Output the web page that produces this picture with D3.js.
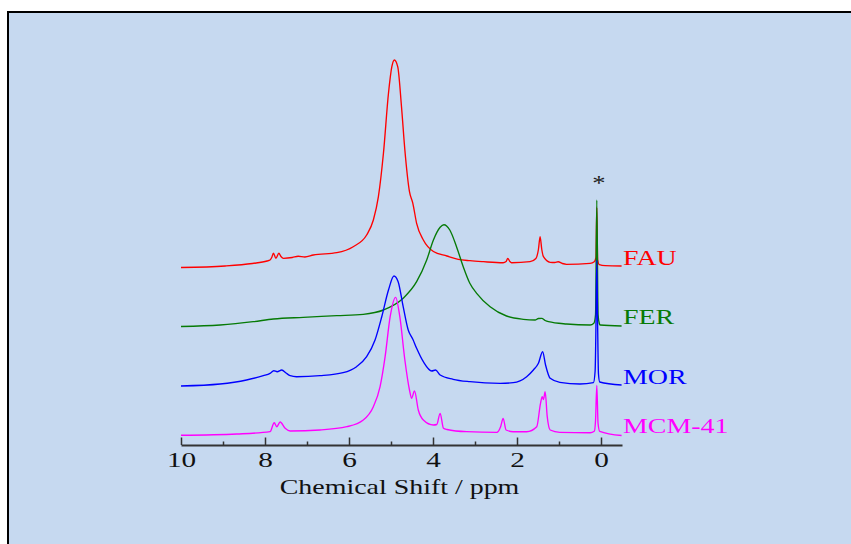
<!DOCTYPE html>
<html>
<head>
<meta charset="utf-8">
<script src="https://cdn.jsdelivr.net/npm/d3@7"></script>
<style>
  html, body { margin: 0; padding: 0; background: #ffffff; }
  svg { display: block; }
</style>
</head>
<body>
<svg id="chart" width="851" height="544"></svg>
<script>
// ---------- data (ppm, intensity above each trace's own baseline) ----------
const seriesNames = ["FAU", "FER", "MOR", "MCM-41"];
const seriesOffsets = [177.5, 118.5, 59, 9.5];
const seriesColors = ["#ff0000", "#067a06", "#0000ff", "#ff00ff"];

const fauPoints = [[10.0,0],[8.95,1.5],[8.3,4],[7.95,6.5],[7.88,7.5],[7.84,10],[7.80,14.2],[7.74,9.2],[7.67,14.2],[7.62,11],[7.56,9.2],[7.35,10],[7.21,11.2],[7.05,10.5],[6.85,12.5],[6.29,14.8],[5.90,20.8],[5.58,32.5],[5.42,47.5],[5.30,70.8],[5.18,114.2],[5.06,174.2],[4.98,200.8],[4.92,207.5],[4.84,200.8],[4.75,160.8],[4.67,117.5],[4.56,75.8],[4.48,64.2],[4.39,44.2],[4.23,27.5],[3.99,16],[3.67,11.5],[3.40,8.2],[3.12,6.8],[2.80,5.8],[2.33,4.8],[2.26,6],[2.22,9.2],[2.17,6],[2.13,4.8],[1.69,5.8],[1.55,9],[1.49,18],[1.45,30.8],[1.41,18],[1.37,10.8],[1.21,5.2],[1.10,5],[1.02,5.8],[0.92,4],[0.82,3.2],[0.26,4.2],[0.16,5.8],[0.12,10],[0.10,60],[0.08,8],[0.04,2.8],[-0.1,1.8],[-0.49,1.5]];

const ferPoints = [[10.0,0],[9.07,1.5],[8.28,4.8],[7.80,7.5],[7.09,9.2],[6.29,10.8],[5.66,12.2],[5.18,16.5],[4.71,28.2],[4.39,44.8],[4.15,66.5],[3.99,86.5],[3.83,99.2],[3.74,101.8],[3.60,96.5],[3.44,79.8],[3.28,59.8],[3.12,43],[2.96,33.2],[2.64,19.8],[2.25,10.5],[1.85,7.2],[1.57,6.5],[1.49,8],[1.41,8.2],[1.33,6],[1.25,4.8],[0.82,2.5],[0.26,1.5],[0.17,3.2],[0.13,12],[0.10,126.5],[0.07,12],[0.04,3],[0.02,1.5],[-0.49,0.5]];

const morPoints = [[10.0,0],[9.07,2],[8.44,6],[8.04,10.3],[7.88,12.7],[7.79,15.3],[7.71,14.3],[7.60,16],[7.50,13],[7.40,10.3],[7.25,9.3],[6.69,10.3],[6.14,13.3],[5.82,19.3],[5.58,29.3],[5.38,46],[5.22,69.3],[5.06,96],[4.93,110],[4.83,104.3],[4.71,79.3],[4.59,56],[4.48,46.7],[4.39,37.7],[4.23,24.3],[4.03,15],[3.94,16],[3.83,11],[3.52,6.7],[3.12,4.3],[2.40,2.7],[2.09,3.3],[1.77,9.3],[1.61,16],[1.49,22.7],[1.39,34.3],[1.32,21],[1.21,7.7],[0.98,3.7],[0.50,2],[0.18,3.3],[0.14,15],[0.12,60],[0.10,126],[0.08,60],[0.06,12],[0.03,4],[-0.49,1]];

const mcmPoints = [[10.0,0.2],[8.67,1.5],[7.88,3.8],[7.78,12.8],[7.72,8.8],[7.64,13.5],[7.52,7.2],[7.40,4.5],[6.69,5.5],[6.05,8.8],[5.66,15.5],[5.42,28.8],[5.26,48.8],[5.14,78.8],[5.02,118.8],[4.89,138.2],[4.79,118.8],[4.67,75.5],[4.56,45.5],[4.51,37.2],[4.44,44.5],[4.35,25.5],[4.23,15.5],[3.99,10.5],[3.91,11],[3.83,22.2],[3.75,7.2],[3.67,6],[3.20,3.8],[2.48,3.2],[2.39,8.8],[2.33,17.2],[2.26,5.5],[2.09,3.8],[1.77,3.8],[1.53,8.8],[1.44,32.2],[1.40,38.8],[1.37,36],[1.33,43.8],[1.28,18.8],[1.21,5.5],[0.98,3.2],[0.26,2.8],[0.16,4.2],[0.13,15],[0.10,50],[0.07,12],[0.03,4.2],[-0.49,0]];

const seriesPoints = [fauPoints, ferPoints, morPoints, mcmPoints];
const majorTicks = [10, 8, 6, 4, 2, 0];
const minorTicks = [9, 7, 5, 3, 1];
const xDomain = [10, -0.5];
const axisTitle = "Chemical Shift / ppm";
const markerText = "*";
const markerPpm = 0.10;

// ---------- drawing ----------
const svg = d3.select("#chart");
const W = 851, H = 544;
const FONT = "'Liberation Serif', 'Times New Roman', serif";

// frame
svg.append("rect").attr("x", 8).attr("y", 12).attr("width", W - 8).attr("height", H - 12)
  .attr("fill", "#c6d9f0");
svg.append("path").attr("d", `M8,${H} L8,12 L${W},12`)
  .attr("fill", "none").attr("stroke", "#000").attr("stroke-width", 2);

const x = d3.scaleLinear().domain(xDomain).range([181, 622]);
const y = d3.scaleLinear().domain([0, 400]).range([445, 45]);

const line = d3.line()
  .x(d => x(d[0]))
  .y(d => y(d[1]))
  .curve(d3.curveMonotoneX);

seriesPoints.forEach((pts, i) => {
  const off = seriesOffsets[i];
  svg.append("path")
    .datum(pts.map(p => [p[0], p[1] + off]))
    .attr("fill", "none")
    .attr("stroke", seriesColors[i])
    .attr("stroke-width", 1.35)
    .attr("stroke-linejoin", "round")
    .attr("d", line);
});

// series labels
seriesNames.forEach((name, i) => {
  svg.append("text")
    .attr("transform", `translate(${x(xDomain[1]) + 1},${y(seriesOffsets[i]) - 2.5}) scale(1.33,1)`)
    .attr("font-family", FONT)
    .attr("font-size", 21)
    .attr("fill", seriesColors[i])
    .text(name);
});

// asterisk marker above the reference spike
svg.append("text")
  .attr("transform", `translate(${x(markerPpm) + 2},190) scale(1.33,1)`)
  .attr("text-anchor", "middle")
  .attr("font-family", FONT)
  .attr("font-size", 20)
  .attr("fill", "#222")
  .text(markerText);

// axis
const axisY = y(0);
const gMinor = svg.append("g").attr("transform", `translate(0,${axisY})`)
  .call(d3.axisBottom(x).tickValues(minorTicks).tickSize(-3.5).tickSizeOuter(0).tickFormat(""));
gMinor.select(".domain").remove();
gMinor.selectAll(".tick line").attr("stroke", "#333").attr("stroke-width", 1.5);

const gMajor = svg.append("g").attr("transform", `translate(0,${axisY})`)
  .call(d3.axisBottom(x).tickValues(majorTicks).tickSize(-7.5).tickSizeOuter(0).tickPadding(6));
gMajor.select(".domain").attr("stroke", "#333").attr("stroke-width", 1.8);
gMajor.selectAll(".tick line").attr("stroke", "#333").attr("stroke-width", 1.5);
gMajor.selectAll(".tick text")
  .attr("font-family", FONT)
  .attr("font-size", 22)
  .attr("fill", "#111")
  .attr("transform", "scale(1.33,1)");

// axis title
svg.append("text")
  .attr("transform", `translate(${(x.range()[0] + x.range()[1]) / 2 - 2},494) scale(1.27,1)`)
  .attr("text-anchor", "middle")
  .attr("font-family", FONT)
  .attr("font-size", 22)
  .attr("fill", "#111")
  .text(axisTitle);
</script>
</body>
</html>
